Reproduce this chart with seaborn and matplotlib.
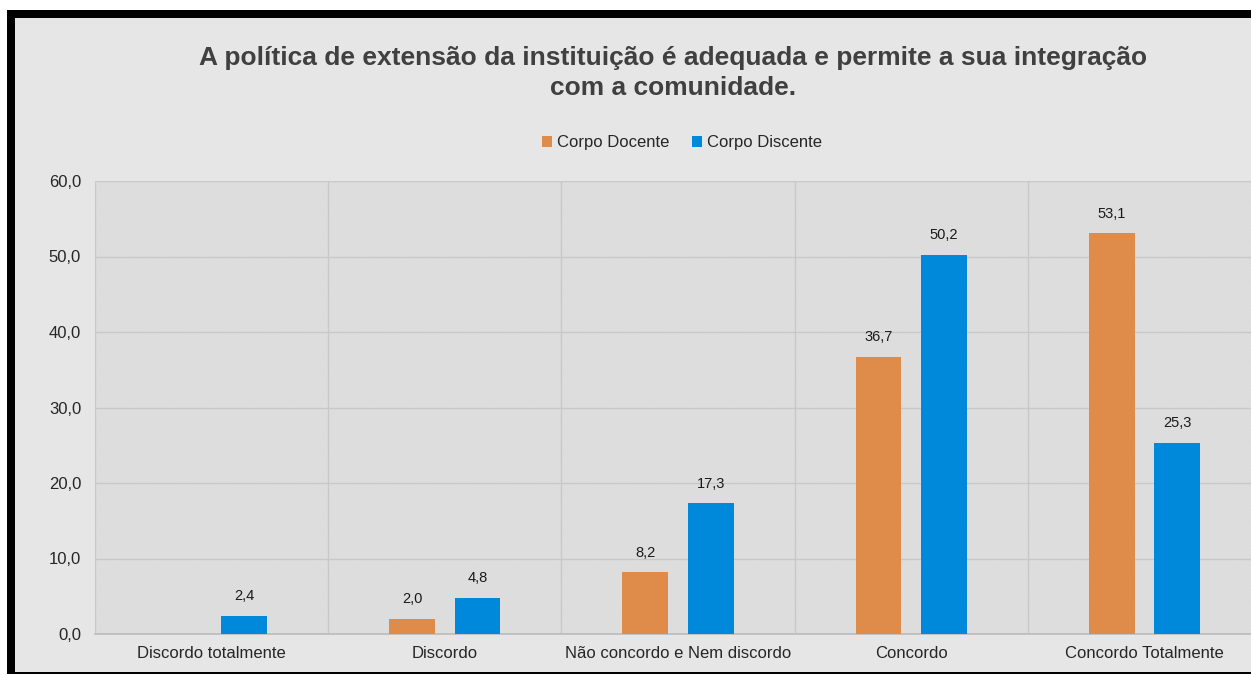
import matplotlib
matplotlib.use("Agg")
import matplotlib.pyplot as plt
from matplotlib.patches import Rectangle
from matplotlib.ticker import FuncFormatter, FixedLocator
import pandas as pd
import seaborn as sns

# Data
categories = ["Discordo totalmente", "Discordo", "Não concordo e Nem discordo",
              "Concordo", "Concordo Totalmente"]
docente = [None, 2.0, 8.2, 36.7, 53.1]
discente = [2.4, 4.8, 17.3, 50.2, 25.3]
series_names = ["Corpo Docente", "Corpo Discente"]
colors = ["#DF8C4A", "#0088DB"]

df = pd.DataFrame({
    "Categoria": categories * 2,
    "Grupo": [series_names[0]] * 5 + [series_names[1]] * 5,
    "Valor": docente + discente,
}).dropna()

sns.set_theme(style="white")
plt.rcParams["font.family"] = ["Liberation Sans Narrow", "Liberation Sans", "DejaVu Sans"]
plt.rcParams["hatch.linewidth"] = 0.45
plt.rcParams["hatch.color"] = "#D2D2D2"

W, H = 1251, 675
fig = plt.figure(figsize=(W / 100, H / 100), dpi=100)
fig.patch.set_facecolor("white")

# black frame + grey panel (behind the axes)
fig.patches.append(Rectangle((7 / W, 1 / H), 1.2, 664 / H, transform=fig.transFigure,
                             facecolor="black", edgecolor="none", zorder=-2))
fig.patches.append(Rectangle((15 / W, 3 / H), 1.2, 654 / H, transform=fig.transFigure,
                             facecolor="#E6E6E6", edgecolor="none", zorder=-1))

# hatched plot area
ax = fig.add_axes([95 / W, 1 - 634 / H, 1166 / W, 453 / H])
ax.set_facecolor("#EAEAEA")
ax.add_patch(Rectangle((0, 0), 1, 1, transform=ax.transAxes, facecolor="#EAEAEA",
                       edgecolor="#D2D2D2", hatch="\\" * 20, lw=0, zorder=0))

sns.barplot(data=df, x="Categoria", y="Valor", hue="Grupo", order=categories,
            hue_order=series_names, palette=colors, width=0.56, gap=0.3,
            saturation=1, edgecolor="none", linewidth=0, ax=ax, zorder=3)

for cont in ax.containers:
    labels = [f"{v:.1f}".replace(".", ",") for v in cont.datavalues]
    ax.bar_label(cont, labels=labels, padding=9, fontsize=10.5, color="#1a1a1a")

ax.set_xlim(-0.5, 4.5)
ax.set_ylim(0, 60)
ax.yaxis.set_major_locator(FixedLocator(range(0, 61, 10)))
ax.yaxis.set_major_formatter(FuncFormatter(lambda v, p: f"{v:.1f}".replace(".", ",")))
ax.xaxis.set_minor_locator(FixedLocator([-0.5, 0.5, 1.5, 2.5, 3.5, 4.5]))
ax.grid(axis="y", which="major", color="#C8C8C8", lw=1, zorder=1)
ax.grid(axis="x", which="minor", color="#C8C8C8", lw=1, zorder=1)
ax.grid(axis="x", which="major", visible=False)
ax.set_axisbelow(True)
for s in ["top", "right", "left"]:
    ax.spines[s].set_visible(False)
ax.spines["bottom"].set_color("#BDBDBD")
ax.tick_params(axis="both", which="both", length=0, labelsize=12, colors="#262626")
ax.tick_params(axis="x", pad=9)
ax.tick_params(axis="y", pad=10)
ax.set_xlabel("")
ax.set_ylabel("")

ax.legend(loc="center", bbox_to_anchor=(682 / W, 1 - 143 / H),
          bbox_transform=fig.transFigure, ncol=2, frameon=False, fontsize=12,
          handlelength=0.6, handleheight=0.6, handletextpad=0.3, columnspacing=1.4)

fig.text(673 / W, 1 - 73 / H,
         "A política de extensão da instituição é adequada e permite a sua integração\ncom a comunidade.",
         ha="center", va="center", fontsize=19, fontweight="bold", color="#404040",
         family=["Liberation Sans", "DejaVu Sans"], linespacing=1.3)

fig.savefig("out.png", dpi=100)
